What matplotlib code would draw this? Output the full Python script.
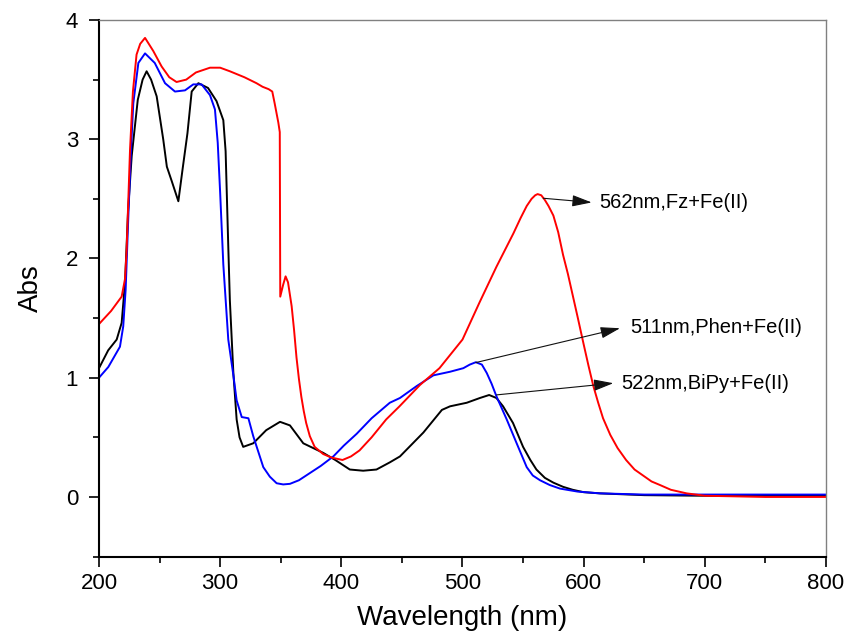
import matplotlib.pyplot as plt
from matplotlib.ticker import MultipleLocator

plt.rcParams["font.family"] = ["Liberation Sans", "DejaVu Sans"]

# Fz + Fe(II)
fz_wl = [200, 210, 218.7, 221.5, 222.8, 224.2, 225.6, 228, 231, 234, 238, 244.8,
         251.7, 258, 264, 272, 280, 291.6, 300, 308, 320, 330, 335, 340, 343,
         345, 348, 349.2, 349.6, 352, 354, 356, 359, 361, 363, 365, 367, 369,
         371, 374, 378, 385, 392, 401, 408, 415, 425, 437, 448, 465, 481, 500,
         514, 528, 536, 542, 548, 553, 557, 560, 562, 565, 568, 571, 575, 579,
         583, 587, 591, 595, 600, 604, 608, 612, 616, 622, 628, 635, 642, 649,
         656, 663, 672, 685, 700, 750, 800]
fz_abs = [1.45, 1.56, 1.68, 1.83, 2.07, 2.49, 2.91, 3.40, 3.71, 3.80, 3.85, 3.74,
          3.61, 3.52, 3.48, 3.50, 3.56, 3.60, 3.60, 3.57, 3.52, 3.47, 3.44, 3.42,
          3.40, 3.30, 3.14, 3.06, 1.68, 1.78, 1.85, 1.80, 1.60, 1.40, 1.17, 0.99,
          0.84, 0.72, 0.62, 0.51, 0.42, 0.36, 0.33, 0.31, 0.34, 0.39, 0.50, 0.65,
          0.76, 0.94, 1.08, 1.32, 1.63, 1.93, 2.09, 2.21, 2.34, 2.44, 2.50, 2.53,
          2.54, 2.53, 2.49, 2.44, 2.36, 2.22, 2.03, 1.87, 1.69, 1.51, 1.28, 1.10,
          0.93, 0.79, 0.66, 0.52, 0.41, 0.31, 0.23, 0.18, 0.13, 0.10, 0.06, 0.03,
          0.01, 0.00, 0.00]

# BiPy + Fe(II)
bipy_wl = [200, 207.6, 214.6, 218.7, 221.5, 224, 227, 232, 236, 239.3, 243, 247.6,
           253, 256, 260, 265.5, 269, 273, 276.5, 282, 290, 297, 302.6, 304.5,
           306.7, 308, 310.9, 313.6, 316, 319, 327.3, 338, 349.4, 357.6, 368.6,
           385, 395, 407, 418, 429, 440, 448.4, 467.7, 483, 489.7, 503.5, 514.4,
           522, 528, 533.5, 541.7, 550, 556, 561, 568, 575, 583, 591, 600, 613.5,
           650, 700, 800]
bipy_abs = [1.08, 1.23, 1.32, 1.46, 1.80, 2.40, 2.86, 3.33, 3.50, 3.57, 3.50, 3.36,
            3.00, 2.77, 2.65, 2.48, 2.75, 3.05, 3.40, 3.47, 3.43, 3.32, 3.16, 2.90,
            2.10, 1.65, 1.04, 0.65, 0.50, 0.42, 0.45, 0.56, 0.63, 0.60, 0.45, 0.37,
            0.31, 0.23, 0.22, 0.23, 0.29, 0.34, 0.54, 0.73, 0.76, 0.79, 0.83, 0.855,
            0.83, 0.76, 0.62, 0.42, 0.31, 0.23, 0.16, 0.12, 0.085, 0.06, 0.04, 0.03,
            0.015, 0.01, 0.01]

# Phen + Fe(II)
phen_wl = [200, 207.7, 217.3, 220, 222, 224.2, 226.4, 228.3, 232.5, 238, 246,
           254.5, 262.7, 271, 277.8, 284.7, 291.6, 295.7, 298, 300, 302.6, 306.7,
           310.9, 313.6, 317.8, 323.3, 327.3, 335.6, 341, 346.6, 352, 357.6, 365,
           374, 383, 393.4, 402, 412.7, 425, 440, 448.4, 462.2, 476, 489.7, 500.7,
           506, 511, 516, 520, 524, 528.2, 536.5, 544.7, 553, 558, 564, 572, 580.5,
           595, 613.5, 650, 700, 800]
phen_abs = [1.00, 1.09, 1.26, 1.43, 1.74, 2.35, 2.91, 3.30, 3.64, 3.72, 3.64,
            3.47, 3.40, 3.41, 3.46, 3.46, 3.37, 3.25, 2.97, 2.55, 1.95, 1.32,
            1.02, 0.81, 0.67, 0.66, 0.51, 0.25, 0.17, 0.115, 0.105, 0.11, 0.14,
            0.20, 0.26, 0.34, 0.43, 0.53, 0.66, 0.79, 0.83, 0.93, 1.02, 1.05, 1.08,
            1.11, 1.13, 1.11, 1.04, 0.95, 0.84, 0.65, 0.45, 0.25, 0.18, 0.14, 0.10,
            0.07, 0.045, 0.03, 0.02, 0.02, 0.02]

labels = ["562nm,Fz+Fe(II)", "511nm,Phen+Fe(II)", "522nm,BiPy+Fe(II)"]
arrow_tails = [(566.7, 2.505), (511.0, 1.127), (528.2, 0.856)]
arrow_heads = [(606.6, 2.47), (630.0, 1.415), (624.5, 0.954)]
text_pos = [(613.0, 2.47), (638.2, 1.42), (631.4, 0.95)]

fig = plt.figure(figsize=(8.49, 6.39), dpi=100)
ax = fig.add_axes([0.1166, 0.129, 0.8563, 0.8397])

ax.plot(bipy_wl, bipy_abs, color="black", lw=1.4)
ax.plot(phen_wl, phen_abs, color="#0000ff", lw=1.4)
ax.plot(fz_wl, fz_abs, color="#ff0000", lw=1.4)

for lab, tail, head, pos in zip(labels, arrow_tails, arrow_heads, text_pos):
    ax.annotate("", xy=head, xytext=tail,
                arrowprops=dict(arrowstyle="-|>,head_length=0.75,head_width=0.22",
                                color="#111111", lw=0.8, mutation_scale=16,
                                shrinkA=0, shrinkB=0))
    ax.text(pos[0], pos[1], lab, fontsize=14.5, va="center", ha="left")

ax.set_xlim(200, 800)
ax.set_ylim(-0.5, 4)
ax.xaxis.set_major_locator(MultipleLocator(100))
ax.xaxis.set_minor_locator(MultipleLocator(50))
ax.yaxis.set_major_locator(MultipleLocator(1))
ax.yaxis.set_minor_locator(MultipleLocator(0.5))

ax.tick_params(which="both", direction="out", top=False, right=False,
               width=1.2, labelsize=16)
ax.tick_params(which="major", length=7)
ax.tick_params(axis="x", which="major", pad=5)
ax.tick_params(axis="y", which="major", pad=8)
ax.tick_params(which="minor", length=4)

for side in ["left", "bottom"]:
    ax.spines[side].set_linewidth(1.5)
    ax.spines[side].set_color("black")
for side in ["top", "right"]:
    ax.spines[side].set_linewidth(1.0)
    ax.spines[side].set_color("#808080")

ax.set_xlabel("Wavelength (nm)", fontsize=20, labelpad=8)
ax.set_ylabel("Abs", fontsize=20, labelpad=16)

fig.savefig("out.png", dpi=100)
